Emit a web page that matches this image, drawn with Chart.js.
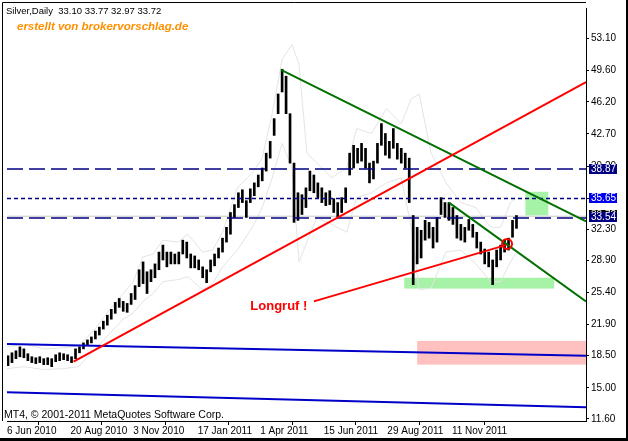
<!DOCTYPE html>
<html>
<head>
<meta charset="utf-8">
<script src="https://cdn.jsdelivr.net/npm/chart.js@4.4.0/dist/chart.umd.min.js"></script>
<style>
  html, body { margin: 0; padding: 0; background: #fff; }
  canvas { display: block; }
</style>
</head>
<body>
<canvas id="silverChart" width="628" height="441"></canvas>
<script>
// --------------------------------
// Data
// bar index 0 = 6 Jun 2010, one bar per trading day
// --------------------------------
const xTickIdx = [0, 64, 127, 192, 255, 319, 383, 448];
const xTickLabels = ["6 Jun 2010", "20 Aug 2010", "3 Nov 2010", "17 Jan 2011",
  "1 Apr 2011", "15 Jun 2011", "29 Aug 2011", "11 Nov 2011"];
const yTicks = [11.6, 15.0, 18.5, 21.9, 25.4, 28.9, 32.3, 35.7, 39.2, 42.7, 46.2, 49.6, 53.1];

// high / low of every 4th bar, starting at bar 1
const sampleStep = 4;
const priceHigh = [
  18.50, 18.82, 19.04, 19.47, 19.25, 18.72, 18.39, 18.28, 18.39, 18.18,
  18.28, 18.18, 18.61, 18.82, 18.72, 18.61, 18.39, 19.25, 19.47, 19.90,
  20.23, 20.55, 21.19, 21.62, 22.27, 22.92, 23.56, 24.32, 24.75, 24.43,
  24.21, 25.29, 26.15, 27.88, 28.74, 27.66, 27.88, 28.52, 29.81, 30.57,
  29.81, 29.81, 29.60, 29.81, 31.11, 30.90, 29.60, 29.39, 28.95, 28.20,
  27.88, 28.95, 29.60, 30.25, 31.33, 32.51, 34.13, 34.99, 36.28, 36.61,
  35.42, 36.71, 37.36, 38.22, 38.98, 40.60, 41.89, 44.37, 47.06, 49.76,
  49.00, 44.91, 39.52, 36.28, 36.07, 36.82, 38.65, 38.22, 37.36, 36.82,
  36.28, 36.50, 35.64, 35.21, 35.75, 36.82, 40.60, 41.46, 41.13, 41.67,
  41.13, 39.52, 39.73, 41.67, 43.83, 42.75, 41.89, 43.29, 41.67, 41.13,
  40.60, 40.06, 33.80, 32.51, 32.19, 33.27, 33.05, 32.51, 33.59, 35.75,
  35.21, 35.21, 34.67, 33.80, 32.83, 32.51, 33.37, 32.83, 31.97, 30.90,
  30.14, 29.81, 28.95, 30.03, 30.57, 31.11, 31.33, 33.27, 33.80
];
const priceLow = [
  17.42, 17.75, 18.18, 18.39, 18.28, 17.96, 17.75, 17.64, 17.75, 17.53,
  17.53, 17.31, 17.85, 17.96, 18.07, 17.96, 17.75, 18.18, 18.82, 19.25,
  19.68, 19.90, 20.33, 20.76, 21.41, 21.84, 22.49, 23.13, 23.78, 23.35,
  23.24, 24.10, 24.64, 26.04, 26.37, 25.29, 26.58, 27.01, 27.88, 28.95,
  28.20, 28.52, 28.52, 28.52, 29.60, 29.17, 28.09, 28.09, 27.88, 27.01,
  26.47, 27.66, 28.31, 29.17, 29.81, 30.90, 31.76, 33.59, 34.67, 35.21,
  33.59, 35.21, 35.96, 36.93, 37.58, 38.65, 40.06, 42.54, 44.91, 47.28,
  44.91, 39.52, 33.05, 33.27, 33.91, 34.67, 36.50, 36.28, 35.75, 35.21,
  34.88, 34.99, 34.13, 33.59, 34.13, 35.21, 38.22, 38.98, 39.52, 39.73,
  38.98, 37.36, 37.79, 39.52, 41.46, 40.38, 40.06, 41.13, 39.95, 39.52,
  38.98, 35.21, 26.26, 28.52, 29.17, 31.11, 31.33, 30.25, 30.90, 33.91,
  33.59, 33.27, 32.83, 31.33, 31.11, 30.90, 32.19, 31.43, 30.25, 29.60,
  28.52, 28.20, 26.26, 28.20, 28.95, 29.81, 30.03, 31.43, 32.40
];

// light grey envelope lines
const envIdx = [0, 17, 37, 57, 72, 87, 102, 117, 127, 137, 147, 157, 172, 182, 197, 207,
  217, 232, 247, 257, 267, 277, 287, 294, 302, 312, 327, 342, 352, 367, 382, 397, 407,
  415, 427, 442, 457, 472, 487, 497, 507, 513];
const envUpper = [19.47, 19.79, 19.25, 19.36, 19.58, 21.19, 23.35, 25.29, 26.58, 29.28,
  29.60, 31.11, 30.90, 31.76, 29.81, 30.03, 31.97, 36.82, 38.44, 40.06, 44.91, 50.84,
  52.45, 50.30, 40.60, 39.52, 37.90, 38.98, 43.29, 42.75, 45.45, 43.83, 46.52, 47.06,
  40.60, 37.36, 35.21, 34.67, 32.51, 32.51, 35.21, 35.75];
const envLower = [17.10, 17.31, 16.99, 17.10, 17.31, 19.04, 20.76, 22.49, 23.13, 24.43,
  25.29, 26.58, 26.80, 27.12, 25.72, 26.37, 28.20, 30.03, 32.51, 34.67, 37.90, 41.67,
  38.98, 28.74, 30.90, 33.59, 32.83, 31.97, 35.75, 36.28, 37.36, 37.90, 32.51, 25.69,
  25.88, 29.81, 30.03, 28.52, 26.58, 26.58, 28.74, 29.81];

// drawn objects: [startIdx, startPrice, endIdx, endPrice]
const redTrend = [67, 17.85, 583, 48.36];
const longLine = [309, 24.43, 503, 30.60];
const greenTrend1 = [276, 49.68, 583, 33.16];
const greenTrend2 = [445, 35.21, 583, 24.43];
const blueUpper = [0, 19.79, 583, 18.50];
const blueLower = [0, 14.51, 583, 12.89];
const signalPoint = [503.5, 30.68];

// horizontal levels
const levelLong = [38.87, 33.54];
const levelDot = 35.65;
const bidPrice = 33.72;

// rectangles: [fromIdx, toIdx, lowPrice, highPrice, colour]
const zones = [
  [522, 545, 33.81, 36.39, "#a6f2a6"],
  [400, 551, 25.83, 27.01, "#a6f2a6"],
  [413, 583, 17.53, 20.12, "#ffc0c0"]
];

const xMin = 0, xMax = 583, yMin = 11.38, yMax = 56.44;

// -------------------------------
// Helpers
// -------------------------------
const seg = (s) => [{ x: s[0], y: s[1] }, { x: s[2], y: s[3] }];
const hLine = (v) => [{ x: xMin, y: v }, { x: xMax, y: v }];

const lineDs = (data, color, width, order, dash) => ({
  type: "line",
  data,
  borderColor: color,
  borderWidth: width,
  borderDash: dash || [],
  pointRadius: 0,
  fill: false,
  order,
});

const bars = priceHigh.map((h, i) => ({ x: 1 + i * sampleStep, y: [priceLow[i], h] }));

// -------------------------------
// Overlay plugin (zones, frame, texts, price labels)
// -------------------------------
const mt4Overlay = {
  id: "mt4Overlay",
  beforeDraw(chart) {
    const ctx = chart.ctx;
    ctx.save();
    ctx.fillStyle = "#fff";
    ctx.fillRect(0, 0, chart.width, chart.height);
    ctx.restore();
  },
  beforeDatasetsDraw(chart) {
    const { ctx, scales: { x, y } } = chart;
    ctx.save();
    zones.forEach(([x1, x2, lo, hi, col]) => {
      const px1 = x.getPixelForValue(x1);
      const px2 = x.getPixelForValue(x2);
      const py1 = y.getPixelForValue(hi);
      const py2 = y.getPixelForValue(lo);
      ctx.fillStyle = col;
      ctx.fillRect(px1, py1, px2 - px1, py2 - py1);
    });
    ctx.restore();
  },
  afterDraw(chart) {
    const { ctx, chartArea: a, scales: { x, y } } = chart;
    ctx.save();
    // frame top / left
    ctx.strokeStyle = "#000";
    ctx.lineWidth = 1;
    ctx.beginPath();
    ctx.moveTo(2.5, a.bottom);
    ctx.lineTo(2.5, 2.5);
    ctx.lineTo(a.right, 2.5);
    ctx.stroke();

    // texts
    ctx.fillStyle = "#000";
    ctx.font = '9.5px "Liberation Sans", Arial, sans-serif';
    ctx.fillText("Silver,Daily  33.10 33.77 32.97 33.72", 6, 14);
    ctx.font = '10.5px "Liberation Sans", Arial, sans-serif';
    ctx.fillText("MT4, \u00a9 2001-2011 MetaQuotes Software Corp.", 4, 418);
    ctx.fillStyle = "#ff9000";
    ctx.font = 'italic bold 11.5px "Liberation Sans", Arial, sans-serif';
    ctx.fillText("erstellt von brokervorschlag.de", 17, 30);
    ctx.fillStyle = "#ff0000";
    ctx.font = 'bold 13px "Liberation Sans", Arial, sans-serif';
    ctx.fillText("Longruf !", x.getPixelForValue(245), y.getPixelForValue(23.5));

    // price labels on the axis
    const tag = (v, bg, dy) => {
      const py = Math.round(y.getPixelForValue(v)) + dy;
      ctx.fillStyle = bg;
      ctx.fillRect(a.right + 3, py - 5, 28, 10);
      ctx.fillStyle = "#fff";
      ctx.font = '10px "Liberation Sans", Arial, sans-serif';
      ctx.textBaseline = "middle";
      ctx.fillText(v.toFixed(2), a.right + 5, py + 0.5);
    };
    tag(levelLong[0], "#000080", 0);
    tag(levelDot, "#0000ee", -1);
    tag(bidPrice, "#000000", -1);
    tag(levelLong[1], "#000080", -1);

    // window edge
    ctx.fillStyle = "#000";
    ctx.fillRect(626, 0, 2, 441);
    ctx.fillRect(0, 438, 628, 3);
    ctx.restore();
  },
};

// -------------------------------
// Chart
// -------------------------------
const ctx = document.getElementById("silverChart").getContext("2d");
new Chart(ctx, {
  type: "line",
  data: {
    datasets: [
      {
        type: "line",
        data: [{ x: signalPoint[0], y: signalPoint[1] }],
        showLine: false,
        pointRadius: 5,
        pointBorderColor: "#ff0000",
        pointBorderWidth: 2,
        pointBackgroundColor: "rgba(0,0,0,0)",
        order: 0,
      },
      lineDs(seg(redTrend), "#ff0000", 2, 1),
      lineDs(seg(longLine), "#ff0000", 2, 1),
      lineDs(seg(greenTrend1), "#007000", 2, 2),
      lineDs(seg(greenTrend2), "#007000", 2, 2),
      lineDs(seg(blueUpper), "#0000c8", 2, 3),
      lineDs(seg(blueLower), "#0000c8", 2, 3),
      lineDs(hLine(levelLong[0]), "#000080", 1.5, 4, [16, 6]),
      lineDs(hLine(levelLong[1]), "#000080", 1.5, 4, [16, 6]),
      lineDs(hLine(levelDot), "#000080", 1.5, 4, [4, 3]),
      {
        type: "bar",
        data: bars,
        backgroundColor: "#000",
        barThickness: 2,
        grouped: false,
        order: 5,
      },
      lineDs(hLine(bidPrice), "#c8c8c8", 1, 6),
      lineDs(envIdx.map((v, i) => ({ x: v, y: envUpper[i] })), "#e4e4e4", 1, 7),
      lineDs(envIdx.map((v, i) => ({ x: v, y: envLower[i] })), "#e4e4e4", 1, 7),
    ],
  },
  options: {
    responsive: false,
    animation: false,
    layout: { padding: { left: 3, top: 3, right: 3, bottom: 3 } },
    plugins: { legend: { display: false }, tooltip: { enabled: false } },
    scales: {
      x: {
        type: "linear",
        min: xMin,
        max: xMax,
        offset: false,
        afterFit: (s) => { s.height = 17; },
        afterBuildTicks: (s) => { s.ticks = xTickIdx.map((v) => ({ value: v })); },
        grid: { drawOnChartArea: false, tickLength: 4, color: "#000" },
        border: { color: "#000" },
        ticks: {
          autoSkip: false,
          maxRotation: 0,
          minRotation: 0,
          align: "start",
          padding: 0,
          color: "#000",
          font: { family: "Liberation Sans", size: 10 },
          callback: (v) => xTickLabels[xTickIdx.indexOf(v)] || "",
        },
      },
      y: {
        type: "linear",
        position: "right",
        min: yMin,
        max: yMax,
        afterFit: (s) => { s.width = 39; },
        afterBuildTicks: (s) => { s.ticks = yTicks.map((v) => ({ value: v })); },
        grid: { drawOnChartArea: false, tickLength: 3, color: "#000" },
        border: { color: "#000" },
        ticks: {
          padding: 2,
          color: "#000",
          font: { family: "Liberation Sans", size: 10 },
          callback: (v) => Number(v).toFixed(2),
        },
      },
    },
  },
  plugins: [mt4Overlay],
});
</script>
</body>
</html>
